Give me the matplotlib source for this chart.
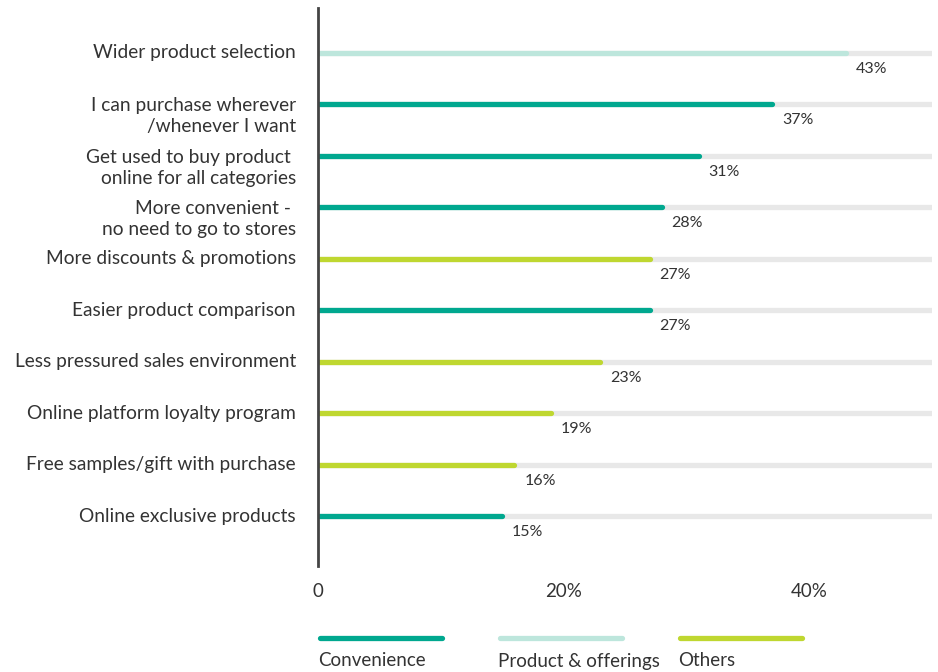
import matplotlib.pyplot as plt
from matplotlib.lines import Line2D

plt.rcParams['font.family'] = ['Lato', 'DejaVu Sans']

# survey data
reasons = [
    "Wider product selection",
    "I can purchase wherever\n/whenever I want",
    "Get used to buy product \nonline for all categories",
    "More convenient - \nno need to go to stores",
    "More discounts & promotions",
    "Easier product comparison",
    "Less pressured sales environment",
    "Online platform loyalty program",
    "Free samples/gift with purchase",
    "Online exclusive products",
]
shares = [43, 37, 31, 28, 27, 27, 23, 19, 16, 15]
groups = ["Product & offerings", "Convenience", "Convenience", "Convenience", "Others",
          "Convenience", "Others", "Others", "Others", "Convenience"]
xticks = [0, 20, 40]
xtick_labels = ["0", "20%", "40%"]
legend_order = ["Convenience", "Product & offerings", "Others"]

colors = {"Convenience": "#00A88F", "Product & offerings": "#BDE6DC", "Others": "#BFD730"}
TRACK = "#E8E8E8"
TEXT = "#333333"
XMAX = 50

fig = plt.figure(figsize=(9.38, 6.72), dpi=100)
ax = fig.add_axes([318 / 938, 1 - 566 / 672, (932 - 318) / 938, (566 - 8) / 672])

for i, (lab, v, g) in enumerate(zip(reasons, shares, groups)):
    ax.plot([0, XMAX], [i, i], color=TRACK, lw=3.8, solid_capstyle='round', zorder=1)
    ax.plot([0, v], [i, i], color=colors[g], lw=3.8, solid_capstyle='round', zorder=2)
    ax.annotate(f"{v}%", (v, i), xytext=(7, -11.5), textcoords='offset points',
                ha='left', va='center', fontsize=11.5, color=TEXT)
    nlines = lab.count("\n") + 1
    ax.annotate(lab, (0, i), xytext=(-16, -(nlines - 1) * 8.6), textcoords='offset points',
                ha='right', va='center', multialignment='right', fontsize=13.8,
                color=TEXT, linespacing=1.3, annotation_clip=False)

ax.set_xlim(0, XMAX)
ax.set_ylim(len(reasons) - 0.03, -0.87)
ax.set_xticks(xticks)
ax.set_xticklabels(xtick_labels, fontsize=13.5, color=TEXT)
ax.tick_params(axis='x', length=0, pad=12)
ax.set_yticks([])
for s in ['top', 'right', 'bottom']:
    ax.spines[s].set_visible(False)
ax.spines['left'].set_color('#444444')
ax.spines['left'].set_linewidth(2)

# legend: colour line with name underneath
for k, name in enumerate(legend_order):
    x0 = (320 + 180 * k) / 938
    x1 = (442 + 180 * k) / 938
    y = 1 - 638 / 672
    fig.add_artist(Line2D([x0, x1], [y, y], color=colors[name], lw=3.8,
                          solid_capstyle='round', transform=fig.transFigure))
    fig.text((318 + 180 * k) / 938, 1 - 661 / 672, name, ha='left', va='center',
             fontsize=13.5, color=TEXT)

fig.savefig("out.png", dpi=100)
